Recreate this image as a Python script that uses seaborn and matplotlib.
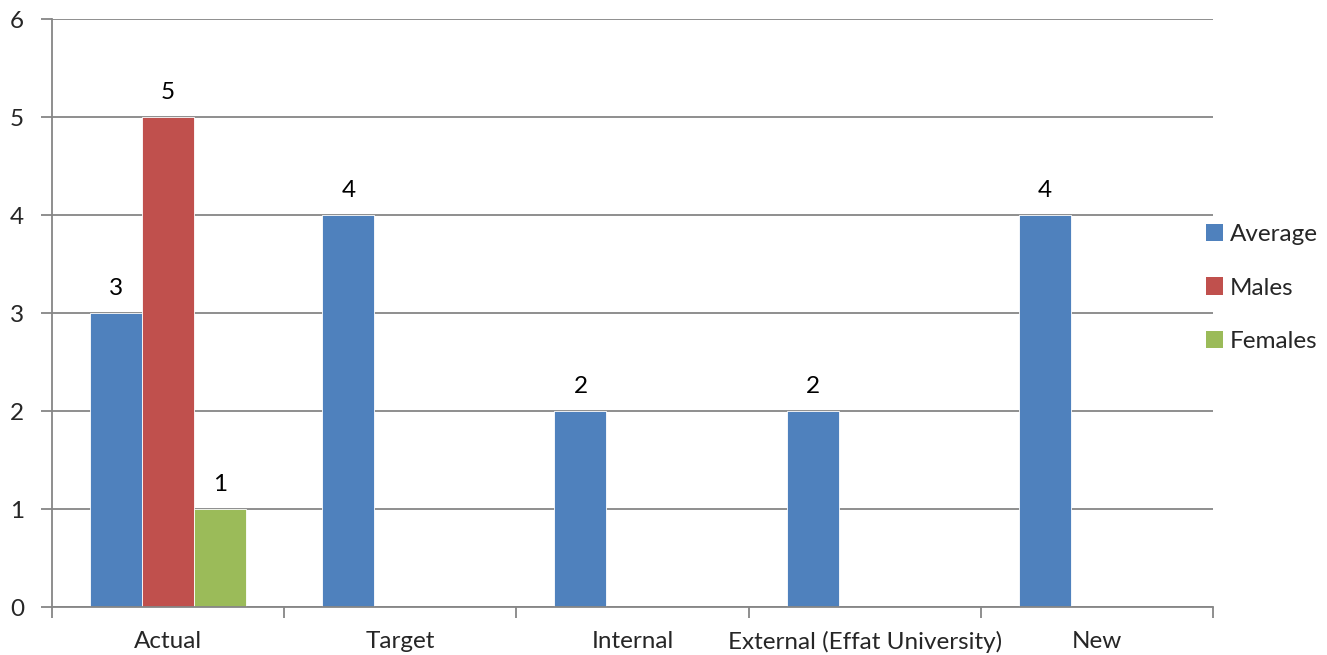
import numpy as np
import pandas as pd
import seaborn as sns
import matplotlib.pyplot as plt
from matplotlib.patches import Patch

categories = ["Actual", "Target", "Internal", "External (Effat University)", "New"]
series = ["Average", "Males", "Females"]
average = [3, 4, 2, 2, 4]
males = [5, np.nan, np.nan, np.nan, np.nan]
females = [1, np.nan, np.nan, np.nan, np.nan]
colors = ["#4F81BD", "#C0504D", "#9BBB59"]

rows = []
for name, vals in zip(series, [average, males, females]):
    for cat, v in zip(categories, vals):
        if not np.isnan(v):
            rows.append({"category": cat, "series": name, "value": v})
df = pd.DataFrame(rows)

sns.set_theme(style="white")
plt.rcParams["font.family"] = ["Lato", "DejaVu Sans"]
FS = 17.5

fig = plt.figure(figsize=(13.27, 6.55), dpi=100)
ax = fig.add_axes([52 / 1327, 48 / 655, (1213 - 52) / 1327, (607 - 19) / 655])

sns.barplot(data=df, x="category", y="value", hue="series",
            order=categories, hue_order=series, palette=colors, saturation=1,
            width=0.672, dodge=True, errorbar=None, ax=ax,
            edgecolor="white", linewidth=0.6, legend=False)

for cont in ax.containers:
    ax.bar_label(cont, fmt="%d", padding=10, fontsize=FS, color="black")

grid_c = "#868686"
ax.set_ylim(0, 6)
ax.set_xlim(-0.5, len(categories) - 0.5)
ax.set_yticks(range(0, 7))
ax.yaxis.grid(True, color=grid_c, linewidth=1.3)
ax.set_axisbelow(True)
for s in ["top", "right"]:
    ax.spines[s].set_visible(False)
for s in ["left", "bottom"]:
    ax.spines[s].set_color(grid_c)
    ax.spines[s].set_linewidth(1.3)

ax.tick_params(axis="y", which="major", length=8, width=1.3, color=grid_c,
               pad=12, labelsize=FS, left=True)
ax.set_xticks(range(len(categories)))
ax.set_xticklabels(categories)
ax.tick_params(axis="x", which="major", length=0, pad=17, labelsize=FS)
ax.set_xticks(np.arange(-0.5, len(categories), 1.0), minor=True)
ax.tick_params(axis="x", which="minor", length=8, width=1.3, color=grid_c,
               bottom=True)
ax.set_xlabel("")
ax.set_ylabel("")

handles = [Patch(facecolor=c, edgecolor="none", label=n) for c, n in zip(colors, series)]
fig.legend(handles=handles, loc="center left", bbox_to_anchor=(1196 / 1327, 1 - 288 / 655),
           frameon=False, fontsize=FS, handlelength=0.7, handleheight=0.7,
           handletextpad=0.3, labelspacing=1.35, borderaxespad=0)

fig.savefig("out.png", dpi=100)
